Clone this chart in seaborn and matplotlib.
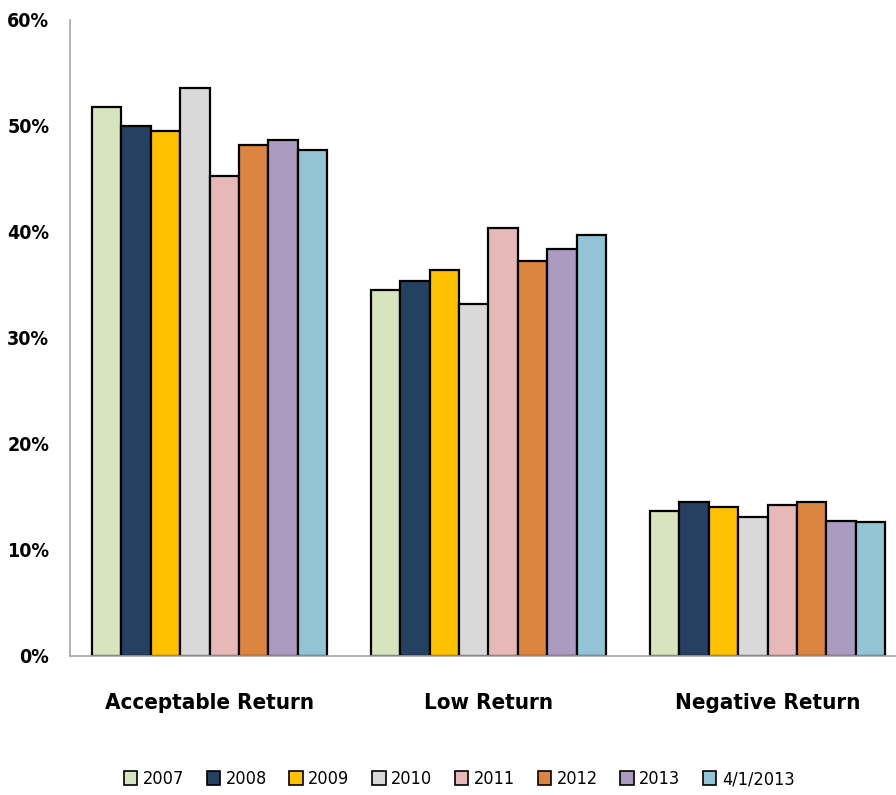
import matplotlib
matplotlib.use("Agg")
import matplotlib.pyplot as plt
import matplotlib.ticker as mticker
from matplotlib.patches import Patch
import seaborn as sns
import pandas as pd

categories = ["Acceptable Return", "Low Return", "Negative Return"]
series = ["2007", "2008", "2009", "2010", "2011", "2012", "2013", "4/1/2013"]
colors = ["#D7E4BD", "#254061", "#FFC000", "#D9D9D9",
          "#E6B9B8", "#DC8540", "#AB9BC1", "#93C4D5"]

# share of returns per category, in percent
acceptable = [51.8, 50.0, 49.5, 53.6, 45.3, 48.2, 48.7, 47.7]
low = [34.5, 35.4, 36.4, 33.2, 40.4, 37.2, 38.4, 39.7]
negative = [13.6, 14.5, 14.0, 13.1, 14.2, 14.5, 12.7, 12.6]

rows = []
for cat, vals in zip(categories, [acceptable, low, negative]):
    for s, v in zip(series, vals):
        rows.append({"category": cat, "series": s, "value": v / 100.0})
df = pd.DataFrame(rows)

sns.set_theme(style="white")
plt.rcParams["font.family"] = ["DejaVu Sans"]
plt.rcParams["font.stretch"] = "condensed"

fig = plt.figure(figsize=(8.96, 7.95), dpi=100)
ax = fig.add_axes([70 / 896, 1 - 655.5 / 795, 837 / 896, 635.5 / 795])

sns.barplot(data=df, x="category", y="value", hue="series",
            hue_order=series, order=categories, palette=colors,
            saturation=1, width=0.845, edgecolor="black", linewidth=1.6,
            legend=False, ax=ax)

ax.set_ylim(0, 0.6)
ax.set_xlim(-0.5, 2.5)
ax.yaxis.set_major_locator(mticker.MultipleLocator(0.1))
ax.yaxis.set_major_formatter(mticker.PercentFormatter(1.0, decimals=0))
ax.set_xlabel("")
ax.set_ylabel("")

for side in ["top", "right"]:
    ax.spines[side].set_visible(False)
for side in ["left", "bottom"]:
    ax.spines[side].set_color("#A6A6A6")
    ax.spines[side].set_linewidth(1.2)

ax.tick_params(axis="y", which="major", direction="out", length=5,
               width=1.2, color="#A6A6A6", pad=10, labelsize=14,
               labelcolor="black")
for lbl in ax.get_yticklabels():
    lbl.set_fontweight("bold")

# category boundary ticks below the axis
ax.set_xticks([-0.5, 0.5, 1.5, 2.5], minor=True)
ax.tick_params(axis="x", which="minor", direction="out", length=9,
               width=1.2, color="#A6A6A6")
ax.tick_params(axis="x", which="major", length=0, pad=27, labelsize=16,
               labelcolor="black")
for lbl in ax.get_xticklabels():
    lbl.set_fontweight("bold")

handles = [Patch(facecolor=c, edgecolor="black", linewidth=1.2, label=s)
           for c, s in zip(colors, series)]
fig.legend(handles=handles, loc="center", bbox_to_anchor=(459 / 896, 1 - 779 / 795),
           ncol=8, frameon=False, fontsize=13, handlelength=0.75,
           handleheight=0.8, handletextpad=0.3, columnspacing=1.25,
           labelcolor="black")

fig.savefig("out.png", dpi=100, facecolor="white")
